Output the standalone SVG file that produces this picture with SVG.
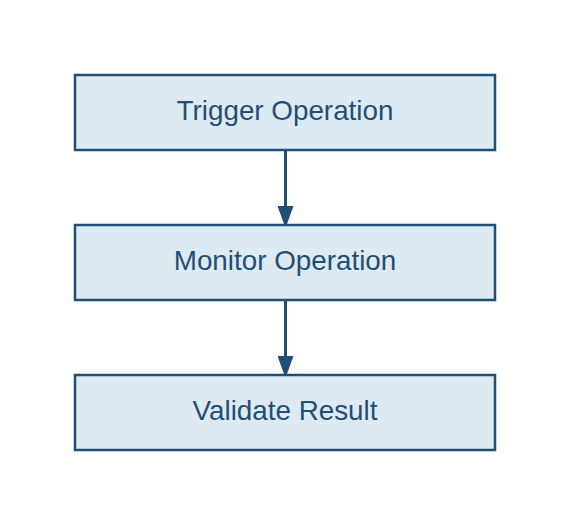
<svg xmlns="http://www.w3.org/2000/svg" width="571" height="525" viewBox="0 0 571 525">
<style>
.box{fill:#deeaf2;stroke:#1f4e79;stroke-width:2.5}
.lbl{font-family:"Liberation Sans",Arial,sans-serif;font-size:27.8px;fill:#1f4e79;text-anchor:middle}
.edge{stroke:#1f4e79;stroke-width:3;fill:none}
</style>
<defs>
<marker id="arr" markerUnits="userSpaceOnUse" markerWidth="22" markerHeight="16" refX="22" refY="8" orient="auto" viewBox="0 0 22 16">
<path d="M0,0 L22,8 L0,16 Z" fill="#1f4e79"/>
</marker>
</defs>
<rect width="571" height="525" fill="#ffffff"/>
<g id="connectors">
<line class="edge" x1="285.5" y1="150" x2="285.5" y2="228" marker-end="url(#arr)"/>
<line class="edge" x1="285.5" y1="300" x2="285.5" y2="378" marker-end="url(#arr)"/>
</g>
<g id="node-trigger">
<rect class="box" x="75" y="75" width="420" height="75"/>
<text class="lbl" x="285" y="120">Trigger Operation</text>
</g>
<g id="node-monitor">
<rect class="box" x="75" y="225" width="420" height="75"/>
<text class="lbl" x="285" y="270">Monitor Operation</text>
</g>
<g id="node-validate">
<rect class="box" x="75" y="375" width="420" height="75"/>
<text class="lbl" x="285" y="420">Validate Result</text>
</g>
</svg>
